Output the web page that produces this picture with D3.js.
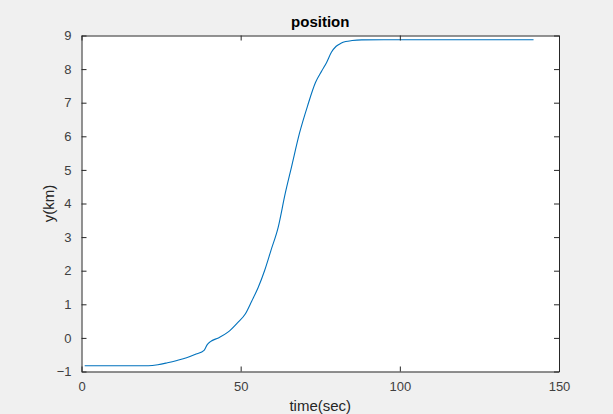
<!DOCTYPE html>
<html>
<head>
<meta charset="utf-8">
<script src="https://cdn.jsdelivr.net/npm/d3@7"></script>
<style>
  html, body { margin: 0; padding: 0; background: #f0f0f0; }
  svg { display: block; }
  text { font-family: "Liberation Sans", Arial, sans-serif; }
</style>
</head>
<body>
<svg id="chart" width="613" height="414"></svg>
<script>
// ── données ────────────────────────────────────────────────────────────────
const timeSec = [1, 5, 10, 15, 21, 24, 27, 30, 33, 36, 38.5, 39.5, 40.5, 43, 46, 49,
  51.5, 53.5, 55.5, 57.5, 59.5, 61.8, 64, 66, 68.5, 71, 73.5, 75.5, 77, 78.5, 80,
  81.5, 83, 85, 88, 95, 110, 125, 142];
const posKm = [-0.83, -0.83, -0.83, -0.83, -0.83, -0.80, -0.74, -0.67, -0.59, -0.48,
  -0.37, -0.20, -0.11, 0.00, 0.17, 0.45, 0.72, 1.10, 1.50, 2.00, 2.60, 3.30, 4.30,
  5.10, 6.10, 6.90, 7.60, 7.95, 8.20, 8.50, 8.68, 8.77, 8.82, 8.85, 8.87, 8.875,
  8.875, 8.875, 8.875];
const xTicks = [0, 50, 100, 150];
const yTicks = [-1, 0, 1, 2, 3, 4, 5, 6, 7, 8, 9];

const margin = { top: 35.5, right: 54, bottom: 42.5, left: 81.5 };
const W = 613 - margin.left - margin.right;
const H = 414 - margin.top - margin.bottom;

const svg = d3.select('#chart');
const g = svg.append('g').attr('transform', `translate(${margin.left},${margin.top})`);

const x = d3.scaleLinear().domain([0, 150]).range([0, W]);
const y = d3.scaleLinear().domain([-1, 9]).range([H, 0]);

g.append('rect').attr('width', W).attr('height', H).attr('fill', '#fff');

// courbe
const line = d3.line().x((d, i) => x(timeSec[i])).y(d => y(d)).curve(d3.curveMonotoneX);
g.append('path').datum(posKm)
  .attr('fill', 'none').attr('stroke', '#0072bd').attr('stroke-width', 1.1).attr('d', line);

// axes (ticks intérieurs, boîte complète)
const axisColor = '#262626';
function styleAxis(sel, hideLabels) {
  sel.select('.domain').attr('stroke', axisColor);
  sel.selectAll('.tick line').attr('stroke', axisColor);
  sel.selectAll('.tick text').attr('fill', '#404040').attr('font-size', '13px')
    .attr('font-family', '"Liberation Sans", Arial, sans-serif');
  if (hideLabels) sel.selectAll('.tick text').remove();
}

g.append('g').attr('transform', `translate(0,${H})`)
  .call(d3.axisBottom(x).tickValues(xTicks).tickSizeInner(-5).tickSizeOuter(0).tickPadding(10))
  .call(s => styleAxis(s, false));
g.append('g').attr('transform', `translate(0,0)`)
  .call(d3.axisTop(x).tickValues(xTicks).tickSizeInner(-5).tickSizeOuter(0))
  .call(s => styleAxis(s, true));
g.append('g')
  .call(d3.axisLeft(y).tickValues(yTicks).tickSizeInner(-5).tickSizeOuter(0).tickPadding(10))
  .call(s => styleAxis(s, false));
g.append('g').attr('transform', `translate(${W},0)`)
  .call(d3.axisRight(y).tickValues(yTicks).tickSizeInner(-5).tickSizeOuter(0))
  .call(s => styleAxis(s, true));

// titres
g.append('text').attr('x', W / 2).attr('y', -9).attr('text-anchor', 'middle')
  .attr('font-size', '15px').attr('font-weight', 'bold').attr('fill', '#000')
  .text('position');
g.append('text').attr('x', W / 2).attr('y', H + 39).attr('text-anchor', 'middle')
  .attr('font-size', '15px').attr('fill', '#262626')
  .text('time(sec)');
g.append('text').attr('transform', `translate(-28,${H / 2}) rotate(-90)`)
  .attr('text-anchor', 'middle').attr('font-size', '15px').attr('fill', '#262626')
  .text('y(km)');
</script>
</body>
</html>
